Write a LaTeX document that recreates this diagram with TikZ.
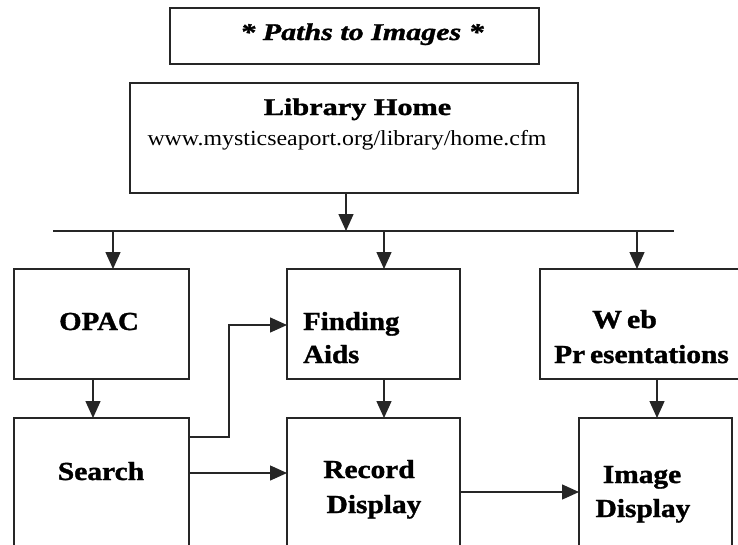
\documentclass[tikz,border=0pt]{standalone}
\usepackage{fontspec}
\setmainfont{Liberation Serif}[BoldFeatures={FakeBold=1.2},BoldItalicFeatures={FakeBold=1.2}]
\usetikzlibrary{arrows.meta}
\newcommand\xs[2]{\scalebox{#1}[1]{#2}}
\tikzset{
  box/.style={draw=black!85, line width=1.4pt, rectangle, inner sep=0pt, outer sep=0pt},
  arr/.style={draw=black!85, line width=1.4pt, -{Triangle[length=17pt,width=15pt]}},
  conn/.style={draw=black!85, line width=1.4pt},
  lbl/.style={font=\fontsize{26}{30}\selectfont\bfseries, inner sep=0pt, anchor=base},
  lbll/.style={lbl, anchor=base west},
}
\begin{document}
\begin{tikzpicture}[x=1pt,y=-1pt]
\useasboundingbox (0,0) rectangle (738,544);
\clip (0,0) rectangle (738,544);
\fill[white] (0,0) rectangle (738,544);
% boxes
\node[box, minimum width=369pt, minimum height=56pt] (title) at (354.5,36) {};
\node[box, minimum width=448pt, minimum height=110pt] (lib) at (354,138) {};
\node[box, minimum width=175pt, minimum height=110pt] (opac) at (101.5,324) {};
\node[box, minimum width=173pt, minimum height=110pt] (find) at (373.5,324) {};
\node[box, minimum width=220pt, minimum height=110pt] (web) at (650,324) {};
\node[box, minimum width=175pt, minimum height=152pt] (search) at (101.5,494) {};
\node[box, minimum width=173pt, minimum height=152pt] (record) at (373.5,494) {};
\node[box, minimum width=153pt, minimum height=152pt] (image) at (655.5,494) {};
% texts
\node[lbl, font=\fontsize{24}{28}\selectfont\bfseries\itshape] (titletxt) at (362,40) {\xs{1.25}{* Paths to Images *}};
\node[lbl, font=\fontsize{24}{28}\selectfont\bfseries] (libtxt) at (357.5,115) {\xs{1.26}{Library Home}};
\node[lbl, font=\fontsize{21.5}{26}\selectfont] (urltxt) at (347,145) {\xs{1.11}{www.mysticseaport.org/library/home.cfm}};
\node[lbl] (opactxt) at (99,330) {\xs{1.11}{OPAC}};
\node[lbll] (findtxt1) at (303,330) {\xs{1.11}{Finding}};
\node[lbll] (findtxt2) at (303,363) {\xs{1.11}{Aids}};
\node[lbl] (webtxt1) at (624.5,328) {\xs{1.15}{W\,eb}};
\node[lbl] (webtxt2) at (641.5,363) {\xs{1.13}{Pr\,esentations}};
\node[lbl] (searchtxt) at (101,480) {\xs{1.135}{Search}};
\node[lbl] (rectxt1) at (369,478) {\xs{1.13}{Record}};
\node[lbl] (rectxt2) at (374,513) {\xs{1.13}{Display}};
\node[lbl] (imgtxt1) at (642,483) {\xs{1.13}{Image}};
\node[lbl] (imgtxt2) at (643,517) {\xs{1.13}{Display}};
% helper coordinates
\coordinate (busL) at (53,231);
\coordinate (busR) at (674,231);
\coordinate (x346) at (346,0);
\coordinate (x113) at (113,0);
\coordinate (x384) at (384,0);
\coordinate (x637) at (637,0);
\coordinate (x93) at (93,0);
\coordinate (x657) at (657,0);
\coordinate (xa) at (229,0);
\coordinate (ya) at (0,437);
\coordinate (yb) at (0,325);
\coordinate (yc) at (0,473);
\coordinate (yd) at (0,492);
% connectors
\draw[conn] (busL) -- (busR);
\draw[arr] (lib.south -| x346) -- (busL -| x346);
\draw[arr] (busL -| x113) -- (opac.north -| x113);
\draw[arr] (busL -| x384) -- (find.north -| x384);
\draw[arr] (busL -| x637) -- (web.north -| x637);
\draw[arr] (opac.south -| x93) -- (search.north -| x93);
\draw[arr] (find.south -| x384) -- (record.north -| x384);
\draw[arr] (web.south -| x657) -- (image.north -| x657);
\draw[arr] (search.east |- ya) -| (xa |- yb) -- (find.west |- yb);
\draw[arr] (search.east |- yc) -- (record.west |- yc);
\draw[arr] (record.east |- yd) -- (image.west |- yd);
\end{tikzpicture}
\end{document}
